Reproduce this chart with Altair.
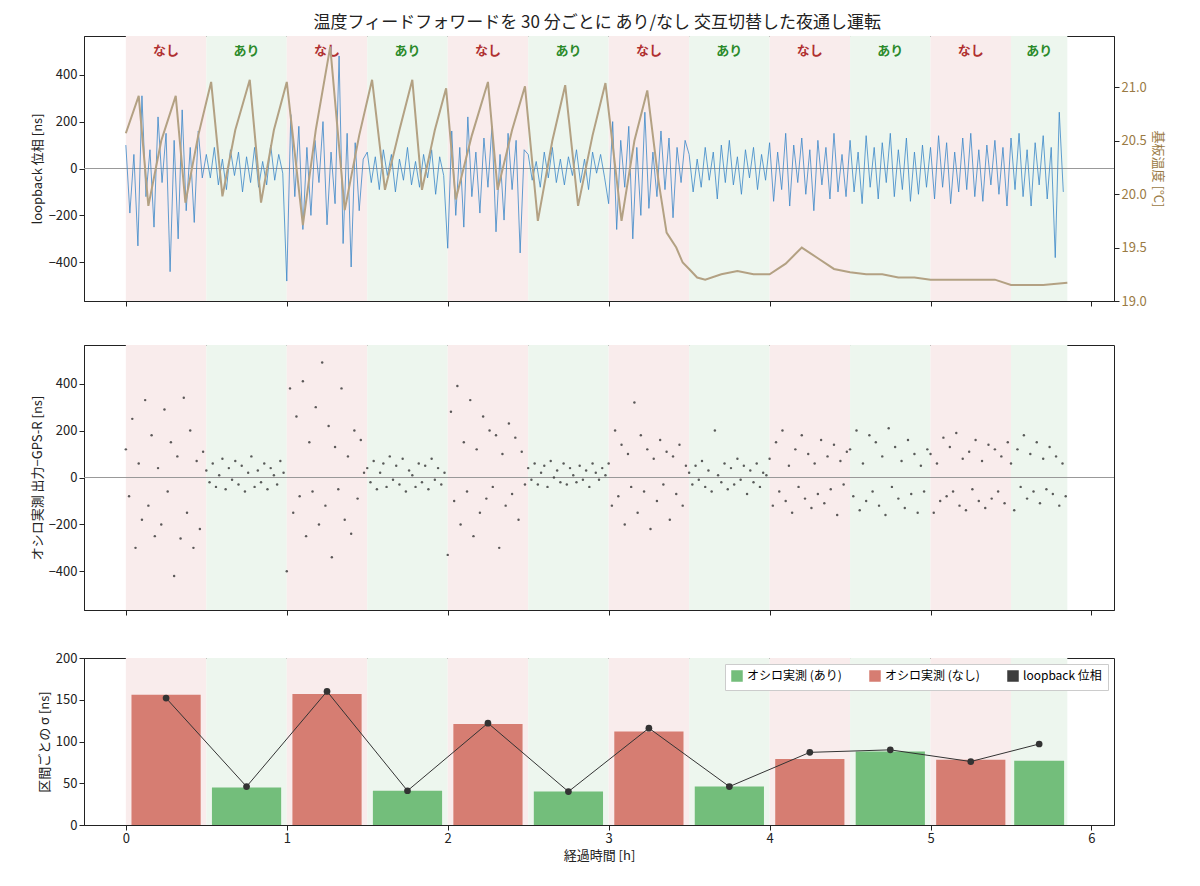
import altair as alt
import pandas as pd

FONT = "Noto Sans CJK JP"
seg_start = [0, 0.5, 1.0, 1.5, 2.0, 2.5, 3.0, 3.5, 4.0, 4.5, 5.0, 5.5]
seg_end = [0.5, 1.0, 1.5, 2.0, 2.5, 3.0, 3.5, 4.0, 4.5, 5.0, 5.5, 5.85]
seg_mode = ["なし", "あり"] * 6

loop_segs = [
    [100,-190,60,-330,310,-120,80,-250,220,-60,150,-440,120,-300,250,-180,90,-230,160,-40],
    [60,-40,90,-70,40,-90,80,-30,70,-100,50,-60,90,-80,30,-70,100,-50,60,-20],
    [-480,230,-120,180,-260,90,-200,120,-60,200,-240,70,-150,480,-320,150,-420,110,-180,40],
    [70,-60,50,-90,80,-30,60,-100,40,-50,90,-70,30,-80,60,-40,80,-110,50,-30],
    [-340,160,-200,90,-250,220,-120,70,-190,130,-80,180,-270,60,-220,150,-90,120,-360,80],
    [60,-50,30,-80,70,-40,90,-60,40,-70,50,-30,80,-60,40,-90,70,-20,60,-40],
    [-150,200,-260,120,-80,180,-300,90,-200,240,-170,70,-120,160,-90,130,-210,90,-60,120],
    [60,-100,40,-80,90,-50,70,-130,100,-60,120,-70,50,-110,80,-40,90,-90,60,-50],
    [110,-140,70,-90,150,-160,100,-60,130,-110,80,-180,120,-70,90,-130,150,-100,60,-120],
    [120,-100,70,-150,140,-80,90,-130,110,-60,150,-120,80,-90,130,-140,70,-110,100,-80],
    [90,-130,140,-80,110,-150,70,-100,130,-90,150,-120,80,-140,100,-70,120,-110,90,-160],
    [130,-90,150,-120,80,-160,110,-70,140,-130,90,-380,240,-100],
]
osc_segs = [
    [120,-80,250,-300,60,-180,330,-120,180,-250,40,-200,290,-60,150,-420,90,-260,340,-150,200,-300,70,-220,110],
    [30,-20,60,-40,10,80,-50,40,-10,70,-30,50,-60,20,90,-40,30,-20,60,-50,40,10,-30,70,20],
    [-400,380,-150,260,-80,410,-250,150,-60,300,-200,490,-120,220,-340,130,-50,380,-180,90,-240,200,-90,160,20],
    [40,-20,70,-50,20,60,-40,90,-10,50,-30,80,-60,30,10,-40,60,-20,50,-50,80,-10,40,-30,20],
    [-330,280,-100,390,-200,150,-60,330,-250,120,-150,260,-90,200,-40,180,-300,100,-120,230,-70,170,-180,110,-30],
    [40,-10,60,-30,20,50,-40,70,0,30,-20,60,-30,40,10,-20,50,-10,30,-40,60,20,-10,40,10],
    [60,-120,200,-80,140,-200,100,-40,320,-150,180,-60,120,-220,80,-100,160,-30,110,-180,90,-70,140,-120,50],
    [20,-30,50,-10,70,-40,30,-60,200,10,-20,60,-50,40,-30,80,-10,50,-70,30,-20,60,-40,20,10],
    [80,-120,150,-60,200,-100,50,-150,120,-40,180,-90,100,-130,60,-70,160,-110,90,-50,140,-160,70,-30,110],
    [120,-80,200,-140,60,-100,180,-60,150,-120,90,-160,210,-40,130,-90,70,-130,160,-70,100,-150,50,-60,120],
    [100,-150,60,-100,170,-80,130,-60,190,-120,80,-140,110,-50,160,-100,70,-130,140,-90,120,-60,90,-110,150],
    [60,-140,120,-40,180,-90,100,-60,150,-110,80,-50,130,-70,90,-120,60,-80],
]
temp_t = [0,0.08,0.14,0.22,0.31,0.37,0.45,0.53,0.6,0.68,0.77,0.84,0.92,1.0,1.1,1.18,1.27,1.36,1.45,1.53,1.61,1.7,1.78,1.84,1.92,1.99,2.05,2.15,2.25,2.31,2.4,2.48,2.56,2.65,2.73,2.81,2.9,2.98,3.08,3.16,3.24,3.31,3.36,3.42,3.46,3.5,3.55,3.6,3.7,3.8,3.9,4.0,4.1,4.2,4.3,4.4,4.5,4.6,4.7,4.8,4.9,5.0,5.2,5.4,5.5,5.6,5.7,5.85]
temp_v = [20.57,20.92,19.89,20.5,20.92,19.92,20.55,21.05,19.98,20.6,21.07,19.92,20.6,21.05,19.71,20.6,21.38,19.85,20.55,21.07,20.04,20.6,21.07,20.04,20.6,20.99,19.95,20.55,21.05,20.04,20.6,21.01,19.75,20.5,21.02,19.89,20.55,21.04,19.75,20.5,20.97,20.12,19.64,19.5,19.36,19.3,19.22,19.2,19.25,19.28,19.25,19.25,19.35,19.5,19.4,19.3,19.27,19.25,19.25,19.22,19.22,19.2,19.2,19.2,19.15,19.15,19.15,19.17]
bar_mid = [0.25,0.75,1.25,1.75,2.25,2.75,3.25,3.75,4.25,4.75,5.25,5.675]
bar_half = [0.215] * 11 + [0.155]
osc_sigma = [156,45,157,41,121,40,112,46,79,88,78,77]
loop_sigma = [152,46,160,41,122,40,116,46,87,90,76,97]

def series(segs, step):
    rows = []
    for s, vals in zip(seg_start, segs):
        for i, v in enumerate(vals):
            rows.append({"t": s + i * step, "v": v})
    return pd.DataFrame(rows)

loop_df = series(loop_segs, 0.025)
osc_df = series(osc_segs, 0.02)
temp_df = pd.DataFrame({"t": temp_t, "temp": temp_v})
seg_df = pd.DataFrame({"s": seg_start, "e": seg_end, "mode": seg_mode,
                       "mid": [(a + b) / 2 for a, b in zip(seg_start, seg_end)]})
bar_df = pd.DataFrame({"mid": bar_mid, "sigma": osc_sigma, "loop": loop_sigma,
                       "label": ["オシロ実測 (" + m + ")" for m in seg_mode]})
bar_df["x1"] = [m - h for m, h in zip(bar_mid, bar_half)]
bar_df["x2"] = [m + h for m, h in zip(bar_mid, bar_half)]
line_df = pd.DataFrame({"mid": bar_mid, "loop": loop_sigma, "label": ["loopback 位相"] * 12})

W = 1030
xdom = [-0.26, 6.14]
xsc = alt.Scale(domain=xdom, nice=False, zero=False)

def xenc(title=None, labels=True):
    return alt.X("s:Q", scale=xsc, axis=alt.Axis(values=[0,1,2,3,4,5,6], labels=labels, title=title, grid=False, format="d"))

def bands_x(title=None, labels=False):
    return alt.Chart(seg_df).mark_rect().encode(
        x=xenc(title, labels), x2="e:Q",
        fill=alt.Fill("mode:N", scale=alt.Scale(domain=["なし", "あり"], range=["#f9ecec", "#edf6ee"]), legend=None))

ysc = alt.Scale(domain=[-565, 565], nice=False)
zero = alt.Chart(pd.DataFrame({"y": [0]})).mark_rule(color="#999999", strokeWidth=1).encode(y=alt.Y("y:Q", scale=ysc))

labels = alt.Chart(seg_df).mark_text(fontWeight="bold", fontSize=13, font=FONT).encode(
    x=alt.X("mid:Q", scale=xsc), y=alt.value(15), text="mode:N",
    color=alt.Color("mode:N", scale=alt.Scale(domain=["なし", "あり"], range=["#b03030", "#2a8a2a"]), legend=None))

loop_line = alt.Chart(loop_df).mark_line(color="#3a87c8", strokeWidth=0.8).encode(
    x=alt.X("t:Q", scale=xsc),
    y=alt.Y("v:Q", scale=ysc, axis=alt.Axis(values=[-400,-200,0,200,400], grid=False, title="loopback 位相 [ns]")))
temp_line = alt.Chart(temp_df).mark_line(color="#b3a183", strokeWidth=2).encode(
    x=alt.X("t:Q", scale=xsc),
    y=alt.Y("temp:Q", scale=alt.Scale(domain=[19.0, 21.48], nice=False),
            axis=alt.Axis(orient="right", values=[19.0,19.5,20.0,20.5,21.0], format=".1f", grid=False,
                          title="基板温度 [°C]", titleColor="#9a7a44", labelColor="#9a7a44")))
top = alt.layer(
    alt.layer(bands_x(), zero, loop_line, labels),
    temp_line
).resolve_scale(y="independent", fill="independent", color="independent").properties(width=W, height=265)

osc_pts = alt.Chart(osc_df).mark_circle(color="#333333", size=6, opacity=0.8).encode(
    x=alt.X("t:Q", scale=xsc),
    y=alt.Y("v:Q", scale=ysc, axis=alt.Axis(values=[-400,-200,0,200,400], grid=False, title="オシロ実測 出力−GPS-R [ns]")))
mid = alt.layer(bands_x(), zero, osc_pts).properties(width=W, height=265)

cscale = alt.Scale(domain=["オシロ実測 (あり)", "オシロ実測 (なし)", "loopback 位相"],
                   range=["#6dbb74", "#d4776b", "#333333"])
bars = alt.Chart(bar_df).mark_bar(opacity=0.95).encode(
    x=alt.X("x1:Q", scale=xsc), x2="x2:Q",
    y=alt.Y("sigma:Q", scale=alt.Scale(domain=[0, 200], nice=False),
            axis=alt.Axis(values=[0,50,100,150,200], grid=False, title="区間ごとの σ [ns]")),
    y2=alt.datum(0),
    color=alt.Color("label:N", scale=cscale,
        legend=alt.Legend(title=None, orient="top-right", direction="horizontal", fillColor="white",
                          strokeColor="#cccccc", padding=6, labelFontSize=12, symbolType="square",
                          labelFont=FONT, columnPadding=25, offset=6)))
lline = alt.Chart(line_df).mark_line(strokeWidth=1,
                                    point=alt.OverlayMarkDef(color="#333333", size=45, filled=True)).encode(
    x=alt.X("mid:Q", scale=xsc), y=alt.Y("loop:Q"), color=alt.Color("label:N", scale=cscale))
bottom = alt.layer(bands_x("経過時間 [h]", True), bars, lline).resolve_scale(fill="independent").properties(width=W, height=167)

chart = alt.vconcat(top, mid, bottom, spacing=35).resolve_legend(color="independent").resolve_scale(color="independent").properties(
    title=alt.TitleParams("温度フィードフォワードを 30 分ごとに あり/なし 交互切替した夜通し運転", fontSize=17, fontWeight="normal", font=FONT, anchor="middle", color="#222"),
    padding={"left": 22, "top": 5, "right": 5, "bottom": 5}
).configure(font=FONT).configure_axis(
    labelFont=FONT, titleFont=FONT, labelFontSize=13, titleFontSize=13, titleFontWeight="normal",
    labelColor="#222", titleColor="#222", domainColor="#222", tickColor="#222"
).configure_view(stroke="#222", strokeWidth=1).configure_legend(labelFont=FONT)

chart.save("out.html", embed_options={"renderer": "svg", "actions": False})
